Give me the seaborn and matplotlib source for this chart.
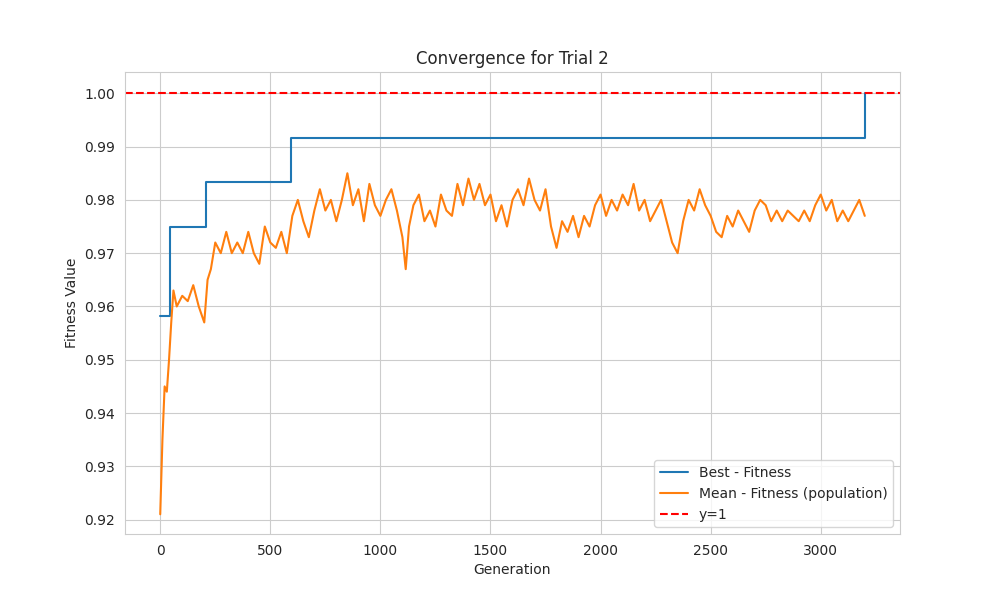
import matplotlib
matplotlib.use("Agg")
import matplotlib.pyplot as plt
import seaborn as sns
import pandas as pd

# best fitness: generation where a new best was found, and its value
best_gen = [0, 45, 210, 595, 3200, 3201]
best_val = [0.9583, 0.975, 0.9833, 0.9917, 1.0, 1.0]

# mean population fitness
mean_gen = [0, 10, 20, 30, 40, 50, 60, 75, 100, 125, 150, 175, 200, 215, 230, 250, 275,
            300, 325, 350, 375, 400, 425, 450, 475, 500, 525, 550, 575, 600, 625, 650,
            675, 700, 725, 750, 775, 800, 825, 850, 875, 900, 925, 950, 975, 1000, 1025,
            1050, 1075, 1100, 1115, 1130, 1150, 1175, 1200, 1225, 1250, 1275, 1300, 1325,
            1350, 1375, 1400, 1425, 1450, 1475, 1500, 1525, 1550, 1575, 1600, 1625, 1650,
            1675, 1700, 1725, 1750, 1775, 1800, 1825, 1850, 1875, 1900, 1925, 1950, 1975,
            2000, 2025, 2050, 2075, 2100, 2125, 2150, 2175, 2200, 2225, 2250, 2275, 2300,
            2325, 2350, 2375, 2400, 2425, 2450, 2475, 2500, 2525, 2550, 2575, 2600, 2625,
            2650, 2675, 2700, 2725, 2750, 2775, 2800, 2825, 2850, 2875, 2900, 2925, 2950,
            2975, 3000, 3025, 3050, 3075, 3100, 3125, 3150, 3175, 3200]
mean_val = [0.921, 0.935, 0.945, 0.944, 0.950, 0.957, 0.963, 0.960, 0.962, 0.961, 0.964,
            0.960, 0.957, 0.965, 0.967, 0.972, 0.970, 0.974, 0.970, 0.972, 0.970, 0.974,
            0.970, 0.968, 0.975, 0.972, 0.971, 0.974, 0.970, 0.977, 0.980, 0.976, 0.973,
            0.978, 0.982, 0.978, 0.980, 0.976, 0.980, 0.985, 0.979, 0.982, 0.976, 0.983,
            0.979, 0.977, 0.980, 0.982, 0.978, 0.973, 0.967, 0.975, 0.979, 0.981, 0.976,
            0.978, 0.975, 0.981, 0.978, 0.977, 0.983, 0.979, 0.984, 0.980, 0.983, 0.979,
            0.981, 0.976, 0.979, 0.975, 0.980, 0.982, 0.979, 0.984, 0.980, 0.978, 0.982,
            0.975, 0.971, 0.976, 0.974, 0.977, 0.973, 0.977, 0.975, 0.979, 0.981, 0.977,
            0.980, 0.978, 0.981, 0.979, 0.983, 0.978, 0.980, 0.976, 0.978, 0.980, 0.976,
            0.972, 0.970, 0.976, 0.980, 0.978, 0.982, 0.979, 0.977, 0.974, 0.973, 0.977,
            0.975, 0.978, 0.976, 0.974, 0.978, 0.980, 0.979, 0.976, 0.978, 0.976, 0.978,
            0.977, 0.976, 0.978, 0.976, 0.979, 0.981, 0.978, 0.980, 0.976, 0.978, 0.976,
            0.978, 0.980, 0.977]

sns.set_style("whitegrid")
fig, ax = plt.subplots(figsize=(10, 6), dpi=100)

ax.step(best_gen, best_val, where="post", label="Best - Fitness", color="#1f77b4")
sns.lineplot(x=mean_gen, y=mean_val, ax=ax, label="Mean - Fitness (population)", color="#ff7f0e")
ax.axhline(1.0, color="red", linestyle="--", label="y=1")

ax.set_title("Convergence for Trial 2")
ax.set_xlabel("Generation")
ax.set_ylabel("Fitness Value")
ax.set_xlim(-160, 3360)
ax.set_ylim(0.9173, 1.004)
ax.legend(loc="lower right")
plt.savefig("out.png")
